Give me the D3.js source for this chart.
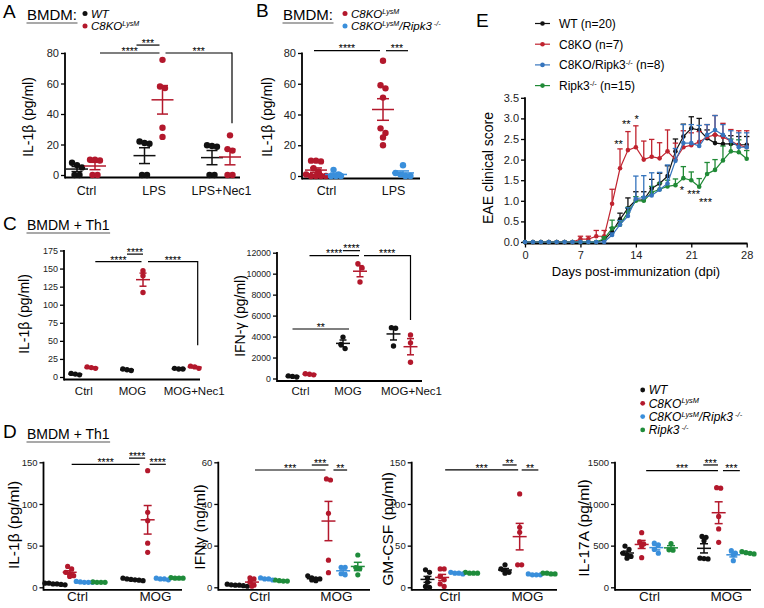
<!DOCTYPE html>
<html>
<head>
<meta charset="utf-8">
<script src="https://cdn.jsdelivr.net/npm/d3@7"></script>
<style>
  body { margin: 0; background: #fff; }
  svg { font-family: "Liberation Sans", Arial, Helvetica, sans-serif; }
</style>
</head>
<body>
<script>
// ---------- data ----------
// A: BMDM IL-1b (pg/ml)
const catsA = ["Ctrl", "LPS", "LPS+Nec1"];
const a_WT = [[0, 0, 5, 6.5, 8], [0, 0, 20.5, 21, 22], [0, 0, 18.5, 19, 19.5]];
const a_C8KO = [[0, 0, 9.5, 10, 10], [25, 31, 57, 58, 75.5], [0, 0, 16, 17, 26]];

// B: BMDM IL-1b (pg/ml)
const catsB = ["Ctrl", "LPS"];
const b_C8KO = [[10, 10, 9.5, 5, 3, 1, 0, 0, 0, 0], [75, 59, 57, 51, 31, 28, 25, 20]];
const b_C8KORipk3 = [[4, 1, 0, 0, 0], [7, 2, 1, 0, 0]];

// C: BMDM + Th1
const catsC = ["Ctrl", "MOG", "MOG+Nec1"];
const c1_WT = [[3, 4, 5], [9, 10, 11], [11, 11, 12]];
const c1_C8KO = [[12, 13, 14], [147, 140, 117], [12, 14, 15]];
const c2_WT = [[150, 200, 250], [3950, 3250, 2850], [4850, 4800, 3100]];
const c2_C8KO = [[350, 400, 450], [10950, 10550, 9200], [4150, 3400, 1550]];

// D: BMDM + Th1, four genotypes
const catsD = ["Ctrl", "MOG"];
const d1_WT = [[3, 4, 5, 4, 5, 3.5], [8, 9, 10, 11, 8.5, 9.5]];
const d1_C8KO = [[25, 22, 18, 16, 14, 13], [140, 90, 80, 53, 42]];
const d1_DKO = [[6, 6.5, 6, 7, 6], [9, 10, 11, 10]];
const d1_R3 = [[6, 6, 6.5, 6], [11, 11, 11.5, 11]];

const d2_WT = [[0.5, 1, 1.5, 1, 0.8, 1.2], [4, 4.5, 5.5, 3.5, 4, 3.2]];
const d2_C8KO = [[4.5, 4, 2.5, 1, 0.5], [52, 51.5, 35.5, 13, 7]];
const d2_DKO = [[4, 4.5, 4, 3.5], [9.6, 9.6, 6, 6.5]];
const d2_R3 = [[3, 3.5, 3, 3.2], [15.5, 9.5, 9, 6]];

const d3_WT = [[21, 18, 11, 6, 1, 0], [27, 22, 20, 18, 17]];
const d3_C8KO = [[22, 22, 13, 9, 4, 1], [112, 72, 66, 27, 27]];
const d3_DKO = [[17, 18, 17, 16], [15, 15, 16, 15]];
const d3_R3 = [[17, 17, 18, 17], [16, 17, 17, 16]];

const d4_WT = [[495, 455, 410, 390, 370, 350], [610, 600, 560, 350, 345, 340]];
const d4_C8KO = [[655, 545, 520, 495, 355], [1195, 1190, 850, 700, 540]];
const d4_DKO = [[530, 510, 455, 410], [440, 410, 390, 320]];
const d4_R3 = [[525, 450, 445], [428, 416, 400, 408]];

// E: EAE clinical score, mean and SEM per day
const days = [0, 1, 2, 3, 4, 5, 6, 7, 8, 9, 10, 11, 12, 13, 14, 15, 16, 17, 18, 19, 20, 21, 22, 23, 24, 25, 26, 27, 28];
const eWT = [0, 0, 0, 0, 0, 0, 0, 0, 0, 0, 0.05, 0.25, 0.55, 0.82, 1.02, 1.02, 1.3, 1.42, 1.6, 2.2, 2.56, 2.76, 2.72, 2.52, 2.4, 2.38, 2.38, 2.36, 2.36];
const eWTsem = [0, 0, 0, 0, 0, 0, 0, 0, 0, 0, 0.05, 0.1, 0.15, 0.25, 0.2, 0.2, 0.22, 0.25, 0.25, 0.3, 0.3, 0.28, 0.28, 0.2, 0.2, 0.2, 0.2, 0.2, 0.2];
const eKO = [0, 0, 0, 0, 0, 0, 0, 0.07, 0.07, 0.14, 0.14, 0.93, 1.79, 2.23, 2.3, 2.0, 2.07, 2.03, 2.2, 2.0, 2.3, 2.35, 2.43, 2.55, 2.6, 2.55, 2.45, 2.35, 2.3];
const eKOsem = [0, 0, 0, 0, 0, 0, 0, 0.07, 0.07, 0.14, 0.14, 0.35, 0.47, 0.45, 0.52, 0.45, 0.42, 0.38, 0.52, 0.4, 0.4, 0.3, 0.25, 0.3, 0.47, 0.33, 0.28, 0.35, 0.4];
const eDKO = [0, 0, 0, 0, 0, 0, 0, 0, 0, 0, 0, 0.17, 0.42, 0.63, 1.05, 1.08, 1.13, 1.27, 1.42, 1.97, 2.4, 2.4, 2.33, 2.6, 2.72, 2.6, 2.45, 2.3, 2.3];
const eDKOsem = [0, 0, 0, 0, 0, 0, 0, 0, 0, 0, 0, 0.05, 0.1, 0.2, 0.55, 0.53, 0.55, 0.42, 0.45, 0.3, 0.45, 0.45, 0.5, 0.25, 0.35, 0.25, 0.25, 0.35, 0.35];
const eR3 = [0, 0, 0, 0, 0, 0, 0, 0, 0, 0, 0.08, 0.33, 0.42, 0.72, 1.0, 1.0, 1.2, 1.28, 1.35, 1.38, 1.55, 1.5, 1.34, 1.65, 1.75, 1.98, 2.2, 2.18, 2.02];
const eR3sem = [0, 0, 0, 0, 0, 0, 0, 0, 0, 0, 0.05, 0.2, 0.1, 0.12, 0.1, 0.1, 0.15, 0.15, 0.15, 0.15, 0.28, 0.2, 0.2, 0.28, 0.25, 0.35, 0.3, 0.3, 0.2];
const eXTicks = [0, 7, 14, 21, 28];
const eYTicks = [0, 0.5, 1, 1.5, 2, 2.5, 3, 3.5];
// significance stars in E: day, score, label
const eStarDay = [12.8, 14.1, 11.8, 19.8, 21.3, 22.8];
const eStarVal = [2.89, 3.03, 2.41, 1.29, 1.19, 1.0];
const eStarTxt = ["**", "*", "**", "*", "***", "***"];

// legend labels ([text, superscript?])
const labWT = [["WT"]];
const labKO = [["C8KO"], ["LysM", 1]];
const labDKO = [["C8KO"], ["LysM", 1], ["/Ripk3"], [" -/-", 1]];
const labR3 = [["Ripk3"], [" -/-", 1]];
const eLabels = [[["WT (n=20)"]], [["C8KO (n=7)"]], [["C8KO/Ripk3"], ["-/-", 1], [" (n=8)"]], [["Ripk3"], ["-/-", 1], [" (n=15)"]]];

// ---------- styles ----------
const colWT = "#111111", colKO = "#b3182c", colDKO = "#3a8fdb", colR3 = "#1f8c3b";
const eCol = ["#111111", "#c0232f", "#3574bd", "#208a36"];

const svg = d3.select("body").append("svg").attr("width", 764).attr("height", 608);

function richText(sel, parts, fs) {
  let up = false;
  parts.forEach(([s, sup]) => {
    const t = sel.append("tspan").text(s);
    if (sup) {
      t.style("font-size", (fs * 0.62) + "px");
      if (!up) { t.attr("dy", -fs * 0.36); up = true; }
    } else if (up) {
      t.attr("dy", fs * 0.36); up = false;
    }
  });
}

function header(letter, lx, ly, title, tx, ty, fs) {
  svg.append("text").attr("x", lx).attr("y", ly).style("font-size", "19px").text(letter);
  const t = svg.append("text").attr("x", tx).attr("y", ty).style("font-size", fs + "px").text(title);
  const w = t.node().getComputedTextLength();
  svg.append("line").attr("x1", tx - 0.5).attr("x2", tx + w + 0.5)
    .attr("y1", ty + 3).attr("y2", ty + 3).attr("stroke", "#555").attr("stroke-width", 1.1);
}

function dotLegend(x, y0, step, items, r, fs) {
  items.forEach((it, i) => {
    const yy = y0 + i * step;
    svg.append("circle").attr("cx", x).attr("cy", yy).attr("r", r).attr("fill", it.color);
    const t = svg.append("text").attr("x", x + 6).attr("y", yy).attr("dy", "0.36em")
      .style("font-size", fs + "px").style("font-style", "italic");
    richText(t, it.label, fs);
  });
}

// spread dots of similar value side by side
function spread(vals, y, cx, r) {
  const pts = vals.map(v => ({ v, py: y(v) })).sort((a, b) => a.py - b.py);
  const rows = [];
  pts.forEach(p => {
    const last = rows[rows.length - 1];
    if (last && Math.abs(p.py - last[0].py) < r * 1.6) last.push(p); else rows.push([p]);
  });
  rows.forEach(row => row.forEach((p, i) => { p.px = cx + (i - (row.length - 1) / 2) * r * 1.55; }));
  return pts;
}

function dotPanel(o) {
  const g = svg.append("g");
  const x = d3.scalePoint().domain(o.cats).range(o.centers);
  const gx = d3.scalePoint().domain(o.groups.map(d => d.name)).range(o.spread);
  const y = d3.scaleLinear().domain([0, o.yMax]).range([o.y0, o.y1]);
  const base = o.y0 + 2.5;

  const ya = g.append("g").attr("transform", `translate(${o.left},0)`)
    .call(d3.axisLeft(y).tickValues(o.ticks).tickFormat(d3.format("d")).tickSize(4).tickPadding(2));
  ya.attr("font-family", null).attr("font-size", null);
  ya.select(".domain").remove();
  ya.selectAll("line").attr("stroke-width", 1.3);
  ya.selectAll("text").style("font-size", o.tickFont + "px").attr("fill", "#222");

  g.append("line").attr("x1", o.left).attr("x2", o.left).attr("y1", o.y1 - 0.6).attr("y2", base + 0.9)
    .attr("stroke", "#000").attr("stroke-width", 1.8);
  g.append("line").attr("x1", o.left).attr("x2", o.right).attr("y1", base).attr("y2", base)
    .attr("stroke", "#000").attr("stroke-width", 1.8);

  const xa = g.append("g").attr("transform", `translate(0,${base})`)
    .call(d3.axisBottom(x).tickSize(0).tickPadding(o.catY - base - 0.71 * o.catFont));
  xa.attr("font-family", null).attr("font-size", null);
  xa.select(".domain").remove();
  xa.selectAll("text").style("font-size", o.catFont + "px").attr("fill", "#111")
    .attr("dx", (d, i) => (o.catShift ? o.catShift[i] : 0));

  o.groups.forEach(grp => {
    grp.vals.forEach((vals, i) => {
      const cx = x(o.cats[i]) + gx(grp.name);
      g.selectAll(null).data(spread(vals, y, cx, o.r)).enter().append("circle")
        .attr("cx", d => d.px).attr("cy", d => d.py).attr("r", o.r).attr("fill", grp.color);
    });
  });

  o.groups.forEach(grp => {
    grp.vals.forEach((vals, i) => {
      const cx = x(o.cats[i]) + gx(grp.name);
      const m = d3.mean(vals);
      const se = d3.deviation(vals) / Math.sqrt(vals.length);
      const s = g.append("g").attr("stroke", grp.color).attr("stroke-width", 1.5);
      s.append("line").attr("x1", cx - o.meanW).attr("x2", cx + o.meanW).attr("y1", y(m)).attr("y2", y(m));
      s.append("line").attr("x1", cx).attr("x2", cx).attr("y1", y(m - se)).attr("y2", y(m + se));
      [m - se, m + se].forEach(v => s.append("line").attr("x1", cx - o.capW).attr("x2", cx + o.capW)
        .attr("y1", y(v)).attr("y2", y(v)));
    });
  });

  o.brackets.forEach(b => {
    const x1 = x(b.p[0]) + gx(b.p[1]) + b.p[2];
    const x2 = x(b.q[0]) + gx(b.q[1]) + b.q[2];
    const yy = y(b.v);
    g.append("line").attr("x1", x1).attr("x2", x2).attr("y1", yy).attr("y2", yy)
      .attr("stroke", "#000").attr("stroke-width", 1.2);
    if (b.drop != null) {
      g.append("line").attr("x1", x2).attr("x2", x2).attr("y1", yy - 0.6).attr("y2", y(b.drop))
        .attr("stroke", "#000").attr("stroke-width", 1.2);
    }
    g.append("text").attr("x", (x1 + x2) / 2).attr("y", yy + 1.8).attr("text-anchor", "middle")
      .style("font-size", "10.5px").text(b.t);
  });

  g.append("text").attr("transform", `translate(${o.titleX},${o.titleY}) rotate(-90)`)
    .attr("text-anchor", "middle").attr("dy", "0.35em").style("font-size", o.titleFont + "px").text(o.title);
}

// ---------- panel A ----------
header("A", 3, 18, "BMDM:", 27, 20, 15);
dotLegend(85, 13.5, 12.5, [{ color: colWT, label: labWT }, { color: colKO, label: labKO }], 2.5, 11.5);
dotPanel({
  cats: catsA, centers: [86, 221], spread: [-9, 9], left: 65, right: 240,
  y0: 175, y1: 53, yMax: 80, ticks: [0, 20, 40, 60, 80], tickFont: 11,
  catY: 195, catFont: 12.5, r: 3.2, meanW: 11, capW: 5.5,
  groups: [{ name: "WT", vals: a_WT, color: colWT }, { name: "C8KO", vals: a_C8KO, color: colKO }],
  brackets: [
    { p: ["Ctrl", "C8KO", 5], q: ["LPS", "C8KO", -3], v: 80, t: "****" },
    { p: ["LPS", "C8KO", 3], q: ["LPS+Nec1", "C8KO", 2], v: 80, t: "***", drop: 34 },
    { p: ["LPS", "WT", -8], q: ["LPS", "C8KO", -3], v: 85.2, t: "***" }
  ],
  title: "IL-1\u03b2 (pg/ml)", titleX: 28, titleY: 117, titleFont: 14
});

// ---------- panel B ----------
header("B", 256, 17, "BMDM:", 283, 20, 15);
dotLegend(345, 13.5, 12.5, [{ color: colKO, label: labKO }, { color: colDKO, label: labDKO }], 2.5, 11.5);
dotPanel({
  cats: catsB, centers: [326, 393], spread: [-10, 10], left: 302, right: 420,
  y0: 176, y1: 53, yMax: 80, ticks: [0, 20, 40, 60, 80], tickFont: 11,
  catY: 195, catFont: 12.5, r: 3.2, meanW: 11, capW: 6,
  groups: [{ name: "C8KO", vals: b_C8KO, color: colKO }, { name: "C8KO/Ripk3", vals: b_C8KORipk3, color: colDKO }],
  brackets: [
    { p: ["Ctrl", "C8KO", -2], q: ["LPS", "C8KO", -3], v: 81.5, t: "****" },
    { p: ["LPS", "C8KO", 3], q: ["LPS", "C8KO/Ripk3", 5], v: 81.5, t: "***" }
  ],
  title: "IL-1\u03b2 (pg/ml)", titleX: 267, titleY: 117, titleFont: 14
});

// ---------- panel C ----------
header("C", 3, 230, "BMDM + Th1", 27, 230, 14);
dotPanel({
  cats: catsC, centers: [83.3, 186.7], spread: [-8, 8], left: 64, right: 200,
  y0: 377, y1: 250.5, yMax: 175, ticks: [0, 25, 50, 75, 100, 125, 150, 175], tickFont: 9,
  catY: 395, catFont: 11.5, catShift: [0, -3, 7], r: 2.7, meanW: 7, capW: 3.5,
  groups: [{ name: "WT", vals: c1_WT, color: colWT }, { name: "C8KO", vals: c1_C8KO, color: colKO }],
  brackets: [
    { p: ["Ctrl", "C8KO", 4], q: ["MOG", "C8KO", -1.5], v: 159.5, t: "****" },
    { p: ["MOG", "C8KO", 5], q: ["MOG+Nec1", "C8KO", 3], v: 159.5, t: "****", drop: 44 },
    { p: ["MOG", "WT", 0], q: ["MOG", "C8KO", 0], v: 170, t: "****" }
  ],
  title: "IL-1\u03b2 (pg/ml)", titleX: 24, titleY: 314, titleFont: 14
});
dotPanel({
  cats: catsC, centers: [301, 402], spread: [-8.5, 8.5], left: 277, right: 422,
  y0: 378.5, y1: 252.7, yMax: 12000, ticks: [0, 2000, 4000, 6000, 8000, 10000, 12000], tickFont: 8.8,
  catY: 395, catFont: 11.5, catShift: [-1, -4, 9], r: 2.7, meanW: 7, capW: 3.5,
  groups: [{ name: "WT", vals: c2_WT, color: colWT }, { name: "C8KO", vals: c2_C8KO, color: colKO }],
  brackets: [
    { p: ["Ctrl", "WT", 0], q: ["MOG", "WT", 6], v: 4723, t: "**" },
    { p: ["Ctrl", "C8KO", 0], q: ["MOG", "C8KO", -1], v: 11718, t: "****" },
    { p: ["MOG", "C8KO", 4], q: ["MOG+Nec1", "C8KO", 0], v: 11718, t: "****", drop: 5582 },
    { p: ["MOG", "WT", 0], q: ["MOG", "C8KO", 0], v: 12195, t: "****" }
  ],
  title: "IFN-\u03b3 (pg/ml)", titleX: 240, titleY: 316, titleFont: 14
});

// ---------- panel D ----------
header("D", 3, 438, "BMDM + Th1", 27, 439, 14);
dotLegend(642.7, 390, 13.3, [
  { color: colWT, label: labWT }, { color: colKO, label: labKO },
  { color: colDKO, label: labDKO }, { color: colR3, label: labR3 }], 2.4, 12);

function groupsD(wt, ko, dko, r3) {
  return [{ name: "WT", vals: wt, color: colWT }, { name: "C8KO", vals: ko, color: colKO },
    { name: "C8KO/Ripk3", vals: dko, color: colDKO }, { name: "Ripk3", vals: r3, color: colR3 }];
}
const dCommon = { cats: catsD, spread: [-22, 22], y0: 587.3, y1: 462.3, tickFont: 9.5,
  catY: 601, catFont: 13.5, r: 2.6, meanW: 7, capW: 4, titleFont: 15.5 };

dotPanel(Object.assign({}, dCommon, {
  centers: [77, 155], left: 43.5, right: 182, yMax: 150, ticks: [0, 50, 100, 150],
  groups: groupsD(d1_WT, d1_C8KO, d1_DKO, d1_R3),
  brackets: [
    { p: ["Ctrl", "C8KO", 2], q: ["MOG", "C8KO", -8], v: 147.6, t: "****" },
    { p: ["MOG", "WT", -4], q: ["MOG", "C8KO", -2.5], v: 155, t: "****" },
    { p: ["MOG", "C8KO", 2], q: ["MOG", "C8KO/Ripk3", 3.5], v: 147.6, t: "****" }
  ],
  title: "IL-1\u03b2 (pg/ml)", titleX: 14, titleY: 525
}));
dotPanel(Object.assign({}, dCommon, {
  centers: [259.3, 335.8], left: 218.3, right: 370, yMax: 60, ticks: [0, 20, 40, 60],
  groups: groupsD(d2_WT, d2_C8KO, d2_DKO, d2_R3),
  brackets: [
    { p: ["Ctrl", "C8KO", 3], q: ["MOG", "C8KO", -3], v: 56.3, t: "***" },
    { p: ["MOG", "WT", -2], q: ["MOG", "C8KO", 0], v: 58.7, t: "***" },
    { p: ["MOG", "C8KO", 5], q: ["MOG", "C8KO/Ripk3", 4], v: 56.3, t: "**" }
  ],
  title: "IFN\u03b3 (ng/ml)", titleX: 200, titleY: 527
}));
dotPanel(Object.assign({}, dCommon, {
  centers: [449.5, 527], left: 411.7, right: 557, yMax: 150, ticks: [0, 50, 100, 150],
  groups: groupsD(d3_WT, d3_C8KO, d3_DKO, d3_R3),
  brackets: [
    { p: ["Ctrl", "C8KO", 3], q: ["MOG", "C8KO", -1.5], v: 140.8, t: "***" },
    { p: ["MOG", "WT", -2.5], q: ["MOG", "C8KO", -3], v: 146.8, t: "**" },
    { p: ["MOG", "C8KO", 2], q: ["MOG", "C8KO/Ripk3", 4], v: 140.8, t: "**" }
  ],
  title: "GM-CSF (pg/ml)", titleX: 387.5, titleY: 529
}));
dotPanel(Object.assign({}, dCommon, {
  centers: [649, 726], left: 615, right: 751, yMax: 1500, ticks: [0, 500, 1000, 1500],
  groups: groupsD(d4_WT, d4_C8KO, d4_DKO, d4_R3),
  brackets: [
    { p: ["Ctrl", "C8KO", 4.5], q: ["MOG", "C8KO", -0.7], v: 1400, t: "***" },
    { p: ["MOG", "WT", -0.7], q: ["MOG", "C8KO", -0.7], v: 1468, t: "***" },
    { p: ["MOG", "C8KO", 4.3], q: ["MOG", "C8KO/Ripk3", 6.5], v: 1400, t: "***" }
  ],
  title: "IL-17A (pg/ml)", titleX: 584, titleY: 528
}));

// ---------- panel E ----------
svg.append("text").attr("x", 476).attr("y", 27).style("font-size", "19px").text("E");
(function eaePanel() {
  const g = svg.append("g");
  const x = d3.scaleLinear().domain([0, 28]).range([525, 746.7]);
  const y = d3.scaleLinear().domain([0, 3.5]).range([242, 97.8]);
  const base = 243.5;

  const ya = g.append("g").attr("transform", "translate(525,0)")
    .call(d3.axisLeft(y).tickValues(eYTicks).tickFormat(d3.format(".1f")).tickSize(4).tickPadding(2));
  ya.attr("font-family", null).attr("font-size", null);
  ya.select(".domain").remove();
  ya.selectAll("line").attr("stroke-width", 1.3);
  ya.selectAll("text").style("font-size", "11px").attr("fill", "#222");
  const xa = g.append("g").attr("transform", `translate(0,${base})`)
    .call(d3.axisBottom(x).tickValues(eXTicks).tickSize(4).tickPadding(4));
  xa.attr("font-family", null).attr("font-size", null);
  xa.select(".domain").remove();
  xa.selectAll("line").attr("stroke-width", 1.3);
  xa.selectAll("text").style("font-size", "11px").attr("fill", "#222");
  g.append("line").attr("x1", 525).attr("x2", 525).attr("y1", y(3.5) - 0.6).attr("y2", base + 0.9)
    .attr("stroke", "#000").attr("stroke-width", 1.8);
  g.append("line").attr("x1", 525).attr("x2", 747.5).attr("y1", base).attr("y2", base)
    .attr("stroke", "#000").attr("stroke-width", 1.8);

  const series = [
    { m: eWT, s: eWTsem, c: eCol[0] },
    { m: eKO, s: eKOsem, c: eCol[1] },
    { m: eR3, s: eR3sem, c: eCol[3] },
    { m: eDKO, s: eDKOsem, c: eCol[2] }
  ];
  const line = d3.line().x((d, i) => x(days[i])).y(d => y(d));
  series.forEach(sr => {
    const s = g.append("g");
    sr.m.forEach((m, i) => {
      if (!sr.s[i]) return;
      const cx = x(days[i]), top = y(m + sr.s[i]);
      s.append("line").attr("x1", cx).attr("x2", cx).attr("y1", y(m)).attr("y2", top)
        .attr("stroke", sr.c).attr("stroke-width", 1.3);
      s.append("line").attr("x1", cx - 2.7).attr("x2", cx + 2.7).attr("y1", top).attr("y2", top)
        .attr("stroke", sr.c).attr("stroke-width", 1.3);
    });
    s.append("path").datum(sr.m).attr("d", line).attr("fill", "none")
      .attr("stroke", sr.c).attr("stroke-width", 1.2);
    s.selectAll(null).data(sr.m).enter().append("circle")
      .attr("cx", (d, i) => x(days[i])).attr("cy", d => y(d)).attr("r", 2.3).attr("fill", sr.c);
  });

  eStarTxt.forEach((t, i) => {
    g.append("text").attr("x", x(eStarDay[i])).attr("y", y(eStarVal[i]) + 5.5)
      .attr("text-anchor", "middle").style("font-size", "11px").text(t);
  });

  g.append("text").attr("transform", "translate(488,168) rotate(-90)")
    .attr("text-anchor", "middle").attr("dy", "0.35em").style("font-size", "14px").text("EAE clinical score");
  g.append("text").attr("x", 636).attr("y", 276).attr("text-anchor", "middle")
    .style("font-size", "13px").text("Days post-immunization (dpi)");

  // legend
  eLabels.forEach((lab, i) => {
    const yy = 23.5 + i * 20.7;
    g.append("line").attr("x1", 535).attr("x2", 550).attr("y1", yy).attr("y2", yy)
      .attr("stroke", eCol[i]).attr("stroke-width", 1.2);
    g.append("circle").attr("cx", 542.5).attr("cy", yy).attr("r", 2.3).attr("fill", eCol[i]);
    const t = g.append("text").attr("x", 559).attr("y", yy).attr("dy", "0.36em").style("font-size", "12px");
    richText(t, lab, 12);
  });
})();
</script>
</body>
</html>
